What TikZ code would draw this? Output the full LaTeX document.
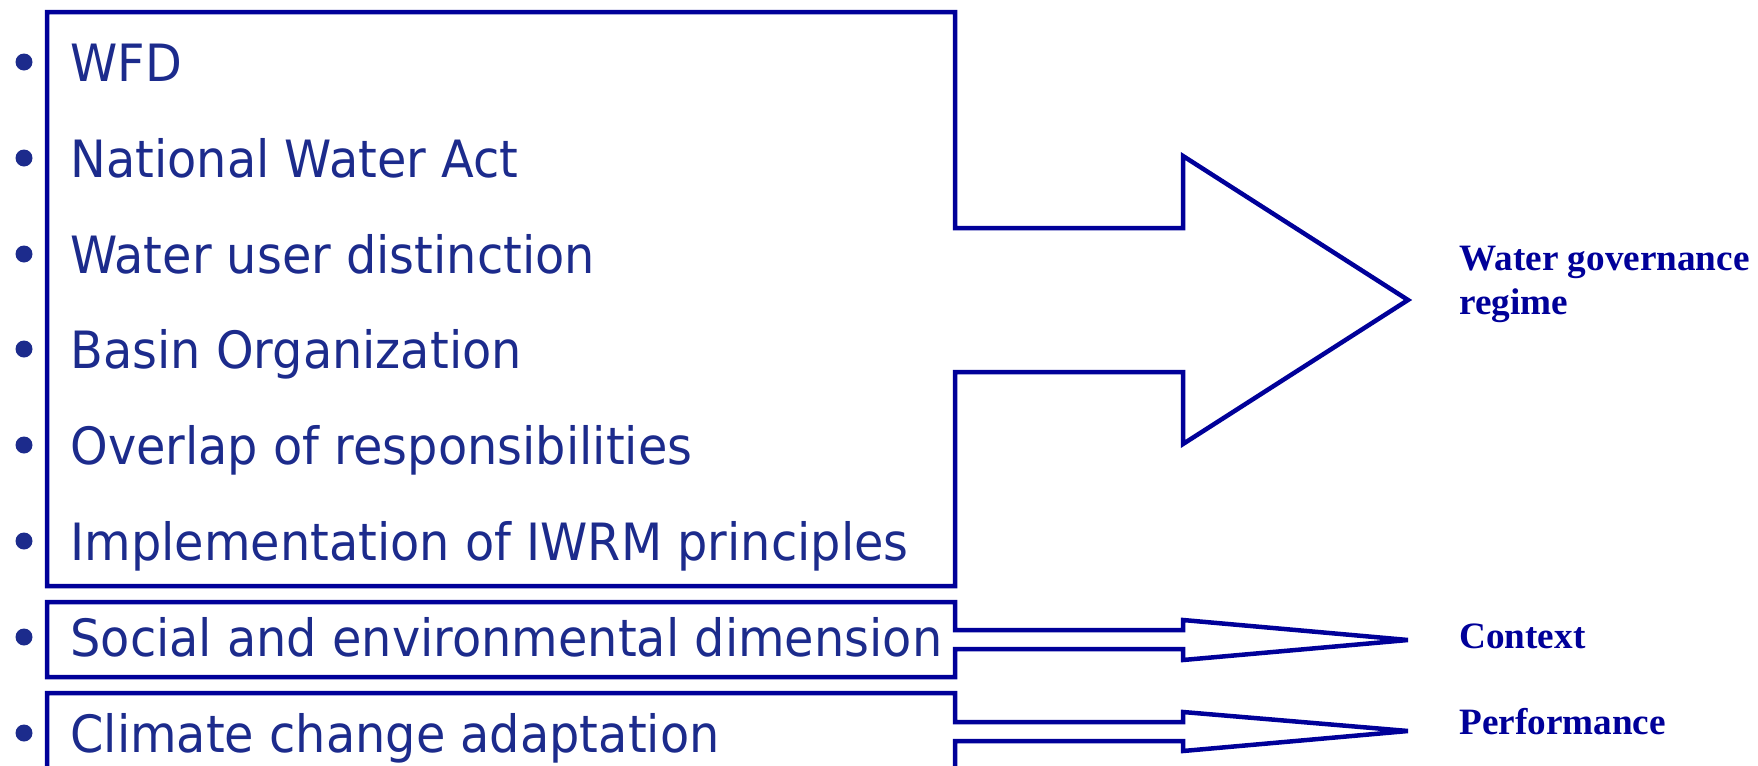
\documentclass[tikz,border=0pt]{standalone}
\usepackage{fontspec}
\newfontfamily\itemfont[FakeStretch=0.93]{DejaVu Sans}
\newfontfamily\labelfont{Liberation Serif}
\definecolor{lineblue}{RGB}{0,0,153}
\definecolor{textblue}{RGB}{28,43,140}
\tikzset{
  itemtext/.style={anchor=base west, inner sep=0pt, text=textblue, font=\itemfont\fontsize{25.7pt}{30pt}\selectfont},
  bulletdot/.style={circle, fill=textblue, inner sep=0pt, minimum size=8.5pt},
  labeltext/.style={anchor=base west, inner sep=0pt, text=lineblue, font=\labelfont\bfseries\fontsize{18.6pt}{22pt}\selectfont},
  outline/.style={draw=lineblue, line width=2.25pt, line join=miter}
}
\begin{document}
\begin{tikzpicture}[x=0.5pt, y=-0.5pt]
\useasboundingbox (0,0) rectangle (1758,766);
\clip (0,0) rectangle (1758,766);
% big box with block arrow
\draw[outline] (47,12) -- (955,12) -- (955,228) -- (1183,228) -- (1183,156) -- (1408,300)
  -- (1183,444) -- (1183,372) -- (955,372) -- (955,586) -- (47,586) -- cycle;
% second box with arrow
\draw[outline] (47,602) -- (955,602) -- (955,630) -- (1183,630) -- (1183,620) -- (1408,640)
  -- (1183,660) -- (1183,649) -- (955,649) -- (955,677) -- (47,677) -- cycle;
% third box with arrow (cut at the bottom)
\draw[outline] (47,790) -- (47,693) -- (955,693) -- (955,722) -- (1183,722) -- (1183,712) -- (1408,731)
  -- (1183,751) -- (1183,741) -- (955,741) -- (955,790);
% items
\node[itemtext] (t1) at (70,81) {WFD};
\node[itemtext] (t2) at (70,177) {National Water Act};
\node[itemtext] (t3) at (70,273) {Water user distinction};
\node[itemtext] (t4) at (70,368) {Basin Organization};
\node[itemtext] (t5) at (70,464) {Overlap of responsibilities};
\node[itemtext] (t6) at (70,560) {Implementation of IWRM principles};
\node[itemtext] (t7) at (70,656) {Social and environmental dimension};
\node[itemtext] (t8) at (70,752) {Climate change adaptation};
% bullets
\node[bulletdot] (b1) at (24,62) {};
\node[bulletdot] (b2) at (24,158) {};
\node[bulletdot] (b3) at (24,254) {};
\node[bulletdot] (b4) at (24,349) {};
\node[bulletdot] (b5) at (24,445) {};
\node[bulletdot] (b6) at (24,541) {};
\node[bulletdot] (b7) at (24,637) {};
\node[bulletdot] (b8) at (24,733) {};
% labels
\node[labeltext] (l1) at (1459,270) {\vtop{\baselineskip=22pt\hbox{Water governance}\hbox{regime}}};
\node[labeltext] (l2) at (1459,648) {Context};
\node[labeltext] (l3) at (1459,734) {Performance};
\end{tikzpicture}
\end{document}
